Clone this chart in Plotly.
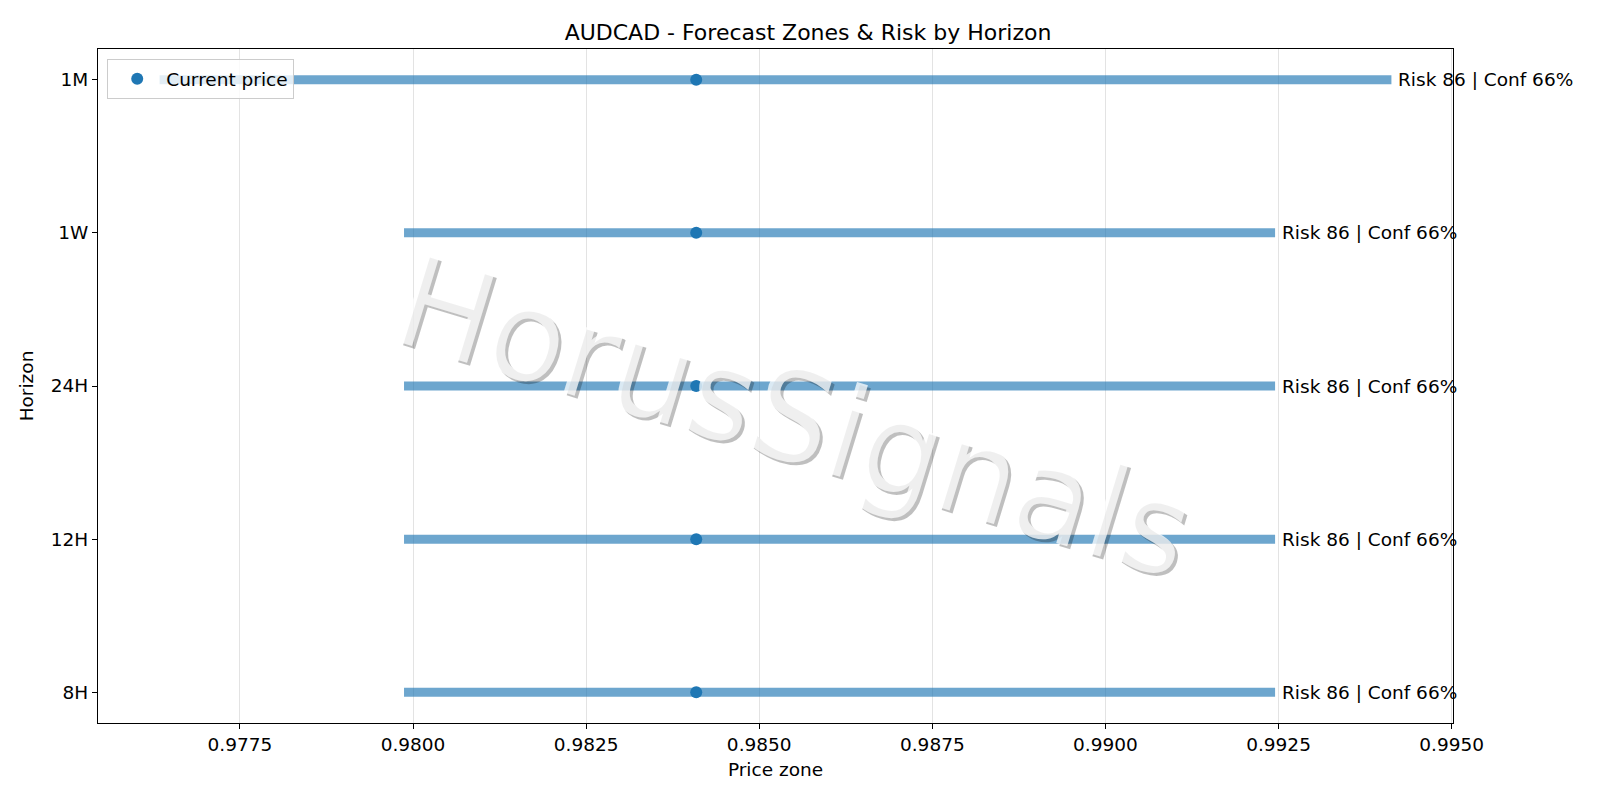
import plotly.graph_objects as go

# forecast zones per horizon
horizons = ["8H", "12H", "24H", "1W", "1M"]
zone_low = [0.97987, 0.97987, 0.97987, 0.97987, 0.97634]
zone_high = [0.99245, 0.99245, 0.99245, 0.99245, 0.99413]
current_price = 0.98409
risk = [86, 86, 86, 86, 86]
conf = [66, 66, 66, 66, 66]

title = "AUDCAD - Forecast Zones & Risk by Horizon"
watermark = "HorusSignals"

FONT = "DejaVu Sans"
BLUE = "#1f77b4"
FS = 18.5

fig = go.Figure()

# zone bars, one segment per horizon
xs, ys = [], []
for h, lo, hi in zip(horizons, zone_low, zone_high):
    xs += [lo, hi, None]
    ys += [h, h, None]
fig.add_trace(go.Scatter(
    x=xs, y=ys, mode="lines",
    line=dict(color="rgba(31,119,180,0.65)", width=9),
    showlegend=False, hoverinfo="skip",
))

fig.add_trace(go.Scatter(
    x=[current_price] * len(horizons), y=horizons,
    mode="markers", name="Current price",
    marker=dict(color=BLUE, size=12),
))

for h, hi, r, c in zip(horizons, zone_high, risk, conf):
    fig.add_annotation(
        x=hi, y=h, text=f"Risk {r} | Conf {c}%",
        xanchor="left", yanchor="middle", xshift=5,
        showarrow=False, font=dict(family=FONT, size=FS, color="black"),
    )

# watermark: drop shadow first, then the pale fill on top
wm_x, wm_y, wm_size, wm_angle = 0.514, 0.453, 126, 17
fig.add_annotation(
    x=wm_x, y=wm_y, xref="paper", yref="paper", xshift=3, yshift=-3,
    text=watermark, showarrow=False, textangle=wm_angle,
    xanchor="center", yanchor="middle",
    font=dict(family=FONT, size=wm_size, color="rgba(0,0,0,0.25)"),
)
fig.add_annotation(
    x=wm_x, y=wm_y, xref="paper", yref="paper",
    text=watermark, showarrow=False, textangle=wm_angle,
    xanchor="center", yanchor="middle",
    font=dict(family=FONT, size=wm_size, color="rgba(255,255,255,0.75)"),
)

lo, hi = min(zone_low), max(zone_high)
pad = 0.05 * (hi - lo)

fig.update_layout(
    width=1600, height=800,
    paper_bgcolor="white", plot_bgcolor="white",
    margin=dict(l=90, r=155, t=41, b=85),
    font=dict(family=FONT, size=FS, color="black"),
    title=dict(text=title, x=0.5, xanchor="center", y=1 - 24 / 800,
               yanchor="middle", yref="container", automargin=False,
               font=dict(size=22, color="black")),
    legend=dict(x=0.0068, y=0.985, xanchor="left", yanchor="top",
                bgcolor="rgba(255,255,255,0.8)", bordercolor="#cccccc",
                borderwidth=1, itemwidth=48, font=dict(size=FS)),
    xaxis=dict(
        range=[lo - pad, hi + pad], dtick=0.0025, tick0=0.9775,
        tickformat=".4f", showgrid=True, gridcolor="#e3e3e3", gridwidth=1,
        zeroline=False, showline=True, mirror=True, linecolor="black",
        linewidth=1.2, ticks="outside", ticklen=5, tickcolor="black",
        automargin=False,
        title=dict(text="Price zone", standoff=8, font=dict(size=FS)),
    ),
    yaxis=dict(
        type="category", categoryorder="array", categoryarray=horizons,
        range=[-0.2, len(horizons) - 0.8], showgrid=False, zeroline=False,
        showline=True, mirror=True, linecolor="black", linewidth=1.2,
        ticks="outside", ticklen=5, tickcolor="black", automargin=False,
        title=dict(text="Horizon", standoff=12, font=dict(size=FS)),
    ),
)

fig.write_html("out.html")
